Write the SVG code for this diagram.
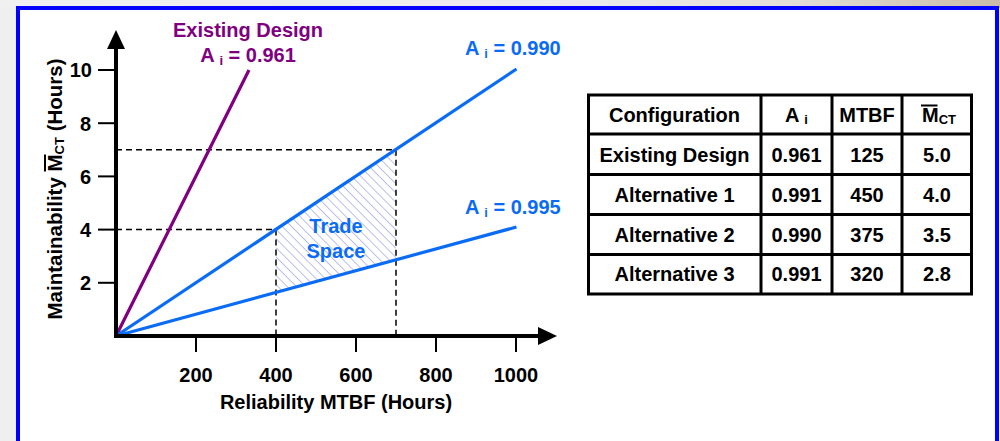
<svg xmlns="http://www.w3.org/2000/svg" width="1000" height="441" viewBox="0 0 1000 441">
  <defs>
    <linearGradient id="bgTop" x1="0" y1="0" x2="1" y2="0">
      <stop offset="0" stop-color="#f0f0f0"/>
      <stop offset="0.55" stop-color="#ececf0"/>
      <stop offset="0.8" stop-color="#e2ddd6"/>
      <stop offset="1" stop-color="#c9bba8"/>
    </linearGradient>
    <pattern id="hatch" patternUnits="userSpaceOnUse" width="6.5" height="6.5" patternTransform="rotate(-45)">
      <line x1="0" y1="0" x2="0" y2="6.5" stroke="#9ea4e2" stroke-width="1.4"/>
    </pattern>
  </defs>
  <style>
    text { font-family: "Liberation Sans", Arial, sans-serif; font-weight: bold; font-size: 20px; fill: #000; }
    .axis { stroke: #000; stroke-width: 4; fill: none; }
    .tick { stroke: #000; stroke-width: 2; }
    .dash { stroke: #000; stroke-width: 1.5; stroke-dasharray: 6 4; fill: none; }
    .blue { stroke: #0a6cf5; stroke-width: 3.2; fill: none; }
    .purple { stroke: #800080; stroke-width: 3.2; fill: none; }
    .tblue { fill: #0a6cf5; }
    .tpurple { fill: #800080; }
    .grid { stroke: #000; stroke-width: 3; fill: none; }
    .mid { text-anchor: middle; }
    .end { text-anchor: end; }
    .sub { font-size: 13px; }
    .ylab { font-size: 20.5px; }
  </style>

  <!-- page background and framed panel -->
  <rect x="0" y="0" width="1000" height="441" fill="#efefef"/>
  <rect x="0" y="0" width="1000" height="8" fill="url(#bgTop)"/>
  <rect x="18" y="8" width="979" height="460" fill="#fff" stroke="#0000ff" stroke-width="4"/>

  <!-- trade space region between the two availability lines -->
  <g id="trade-space">
    <polygon points="276,229.6 396,149.8 396,260.4 276,292.8" fill="url(#hatch)"/>
    <text class="tblue mid" x="336" y="233">Trade</text>
    <text class="tblue mid" x="336" y="258">Space</text>
  </g>

  <!-- guide lines -->
  <g id="guides">
    <path class="dash" d="M116,149.8 H396 V336"/>
    <path class="dash" d="M116,229.6 H276 V336"/>
  </g>

  <!-- availability lines -->
  <g id="connectors">
    <line class="purple" x1="116" y1="336" x2="249" y2="70"/>
    <line class="blue" x1="116" y1="336" x2="516.5" y2="69"/>
    <line class="blue" x1="116" y1="336" x2="516.5" y2="227"/>
  </g>

  <!-- axes -->
  <g id="axes">
    <line class="axis" x1="116" y1="338" x2="116" y2="46"/>
    <polygon points="116,30 107,49 125,49" fill="#000"/>
    <line class="axis" x1="114" y1="336" x2="540" y2="336"/>
    <polygon points="557,336 538,327 538,345" fill="#000"/>

    <line class="tick" x1="98" y1="282.8" x2="116" y2="282.8"/>
    <line class="tick" x1="98" y1="229.6" x2="116" y2="229.6"/>
    <line class="tick" x1="98" y1="176.4" x2="116" y2="176.4"/>
    <line class="tick" x1="98" y1="123.2" x2="116" y2="123.2"/>
    <line class="tick" x1="98" y1="70" x2="116" y2="70"/>
    <text class="end" x="91" y="290">2</text>
    <text class="end" x="91" y="237">4</text>
    <text class="end" x="91" y="184">6</text>
    <text class="end" x="91" y="130.5">8</text>
    <text class="end" x="92" y="77">10</text>

    <line class="tick" x1="196" y1="336" x2="196" y2="352"/>
    <line class="tick" x1="276" y1="336" x2="276" y2="352"/>
    <line class="tick" x1="356" y1="336" x2="356" y2="352"/>
    <line class="tick" x1="436" y1="336" x2="436" y2="352"/>
    <line class="tick" x1="516" y1="336" x2="516" y2="352"/>
    <text class="mid" x="196" y="382">200</text>
    <text class="mid" x="276" y="382">400</text>
    <text class="mid" x="356" y="382">600</text>
    <text class="mid" x="436" y="382">800</text>
    <text class="mid" x="516" y="382">1000</text>

    <text class="mid" x="336" y="409">Reliability MTBF (Hours)</text>
    <g transform="translate(62,189) rotate(-90)">
      <text class="mid ylab" x="0" y="0">Maintainability M<tspan class="sub" dy="2">CT</tspan><tspan dy="-2"> (Hours)</tspan></text>
      <line x1="17.5" y1="-17" x2="34.5" y2="-17" stroke="#000" stroke-width="2"/>
    </g>
  </g>

  <!-- line labels -->
  <g id="label-existing">
    <text class="tpurple mid" x="248" y="37">Existing Design</text>
    <text class="tpurple mid" x="248" y="62">A <tspan class="sub" dy="3">i</tspan><tspan dy="-3"> = 0.961</tspan></text>
  </g>
  <g id="label-990">
    <text class="tblue" x="465" y="55">A <tspan class="sub" dy="3">i</tspan><tspan dy="-3"> = 0.990</tspan></text>
  </g>
  <g id="label-995">
    <text class="tblue" x="465" y="214">A <tspan class="sub" dy="3">i</tspan><tspan dy="-3"> = 0.995</tspan></text>
  </g>

  <!-- configuration table -->
  <g id="config-table">
    <rect class="grid" x="588.5" y="95" width="383" height="199"/>
    <line class="grid" x1="761" y1="95" x2="761" y2="294"/>
    <line class="grid" x1="832" y1="95" x2="832" y2="294"/>
    <line class="grid" x1="902" y1="95" x2="902" y2="294"/>
    <line class="grid" x1="588.5" y1="134" x2="971.5" y2="134"/>
    <line class="grid" x1="588.5" y1="174.5" x2="971.5" y2="174.5"/>
    <line class="grid" x1="588.5" y1="214.5" x2="971.5" y2="214.5"/>
    <line class="grid" x1="588.5" y1="254.5" x2="971.5" y2="254.5"/>

    <text class="mid" x="674.5" y="121.5">Configuration</text>
    <text class="mid" x="796.5" y="121.5">A <tspan class="sub" dy="2">i</tspan></text>
    <text class="mid" x="867" y="121.5">MTBF</text>
    <text class="mid" x="939" y="121.5">M<tspan class="sub" dy="2">CT</tspan></text>
    <line x1="921" y1="105.5" x2="937.5" y2="105.5" stroke="#000" stroke-width="2"/>

    <text class="mid" x="674.5" y="162">Existing Design</text>
    <text class="mid" x="796.5" y="162">0.961</text>
    <text class="mid" x="867" y="162">125</text>
    <text class="mid" x="937" y="162">5.0</text>

    <text class="mid" x="674.5" y="201.5">Alternative 1</text>
    <text class="mid" x="796.5" y="201.5">0.991</text>
    <text class="mid" x="867" y="201.5">450</text>
    <text class="mid" x="937" y="201.5">4.0</text>

    <text class="mid" x="674.5" y="241.5">Alternative 2</text>
    <text class="mid" x="796.5" y="241.5">0.990</text>
    <text class="mid" x="867" y="241.5">375</text>
    <text class="mid" x="937" y="241.5">3.5</text>

    <text class="mid" x="674.5" y="280.5">Alternative 3</text>
    <text class="mid" x="796.5" y="280.5">0.991</text>
    <text class="mid" x="867" y="280.5">320</text>
    <text class="mid" x="937" y="280.5">2.8</text>
  </g>
</svg>
